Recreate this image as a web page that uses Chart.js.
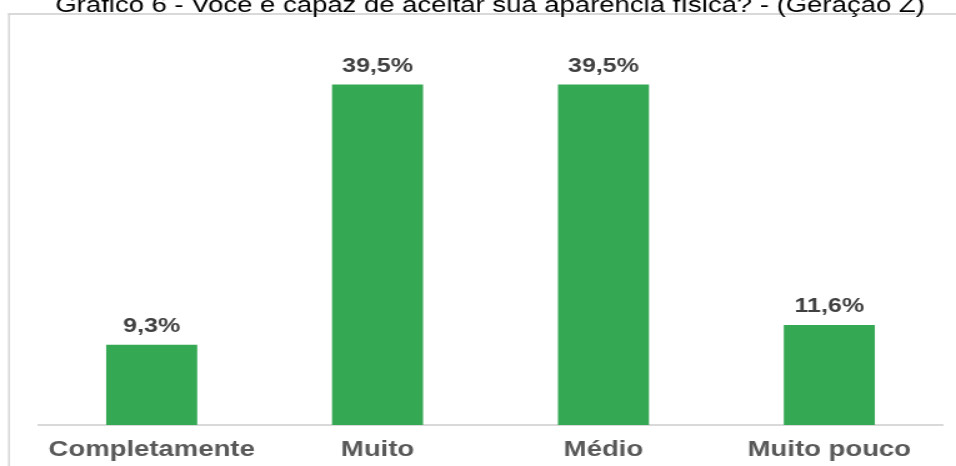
<!DOCTYPE html>
<html>
<head>
<meta charset="utf-8">
<script src="https://cdn.jsdelivr.net/npm/chart.js@4/dist/chart.umd.min.js"></script>
<style>
  html, body { margin: 0; padding: 0; background: #fff; overflow: hidden; }
</style>
</head>
<body>
<!-- drawn narrow and stretched wide, like the original figure -->
<canvas id="grafico" width="765" height="466" style="display:block;width:956px;height:466px"></canvas>
<script>
var tituloGrafico = 'Gráfico 6 - Você é capaz de aceitar sua aparência física? - (Geração Z)';
var categorias = ['Completamente', 'Muito', 'Médio', 'Muito pouco'];
var percentuais = [9.3, 39.5, 39.5, 11.6];

var fonte = "Arial, 'Liberation Sans', sans-serif";
var esticar = 956 / 765;

// moldura cinza (só esquerda e topo) e título cortado no alto
var molduraPlugin = {
	id: 'moldura',
	beforeDraw: function (chart) {
		var ctx = chart.ctx;
		ctx.save();
		ctx.fillStyle = '#ffffff';
		ctx.fillRect(0, 0, chart.width, chart.height);
		ctx.fillStyle = '#d9d9d9';
		ctx.fillRect(6.4, 13, 1.6, chart.height - 13);
		ctx.fillRect(6.4, 13, chart.width, 2);
		ctx.restore();
	},
	afterDraw: function (chart) {
		var ctx = chart.ctx;
		ctx.save();
		ctx.font = '22px ' + fonte;
		ctx.fillStyle = '#000000';
		ctx.textAlign = 'center';
		ctx.textBaseline = 'alphabetic';
		ctx.fillText(tituloGrafico, 490 / esticar, 12);
		ctx.restore();
	}
};

// rótulos de valor em cima das barras
var rotulosPlugin = {
	id: 'rotulos',
	afterDatasetsDraw: function (chart) {
		var ctx = chart.ctx;
		var meta = chart.getDatasetMeta(0);
		ctx.save();
		ctx.font = 'bold 20px ' + fonte;
		ctx.fillStyle = '#404040';
		ctx.textAlign = 'center';
		ctx.textBaseline = 'alphabetic';
		meta.data.forEach(function (barra, i) {
			var txt = percentuais[i].toFixed(1).replace('.', ',') + '%';
			ctx.fillText(txt, barra.x, barra.y - 12.5);
		});
		ctx.restore();
	}
};

var ctx = document.getElementById('grafico').getContext('2d');
var chart = new Chart(ctx, {
	type: 'bar',
	data: {
		labels: categorias,
		datasets: [{
			data: percentuais,
			backgroundColor: '#34a853',
			borderWidth: 0,
			categoryPercentage: 1,
			barPercentage: 0.403
		}]
	},
	options: {
		responsive: false,
		devicePixelRatio: 1,
		animation: false,
		layout: {
			padding: { top: 37, left: 31, right: 11, bottom: -9.4 }
		},
		plugins: {
			legend: { display: false },
			tooltip: { enabled: false }
		},
		scales: {
			x: {
				grid: { display: false, drawTicks: false },
				border: { display: true, color: '#d9d9d9', width: 2 },
				ticks: {
					color: '#595959',
					padding: 12,
					font: { family: fonte, size: 22, weight: 'bold' }
				}
			},
			y: {
				display: false,
				min: 0,
				max: 45
			}
		}
	},
	plugins: [molduraPlugin, rotulosPlugin]
});
</script>
</body>
</html>
